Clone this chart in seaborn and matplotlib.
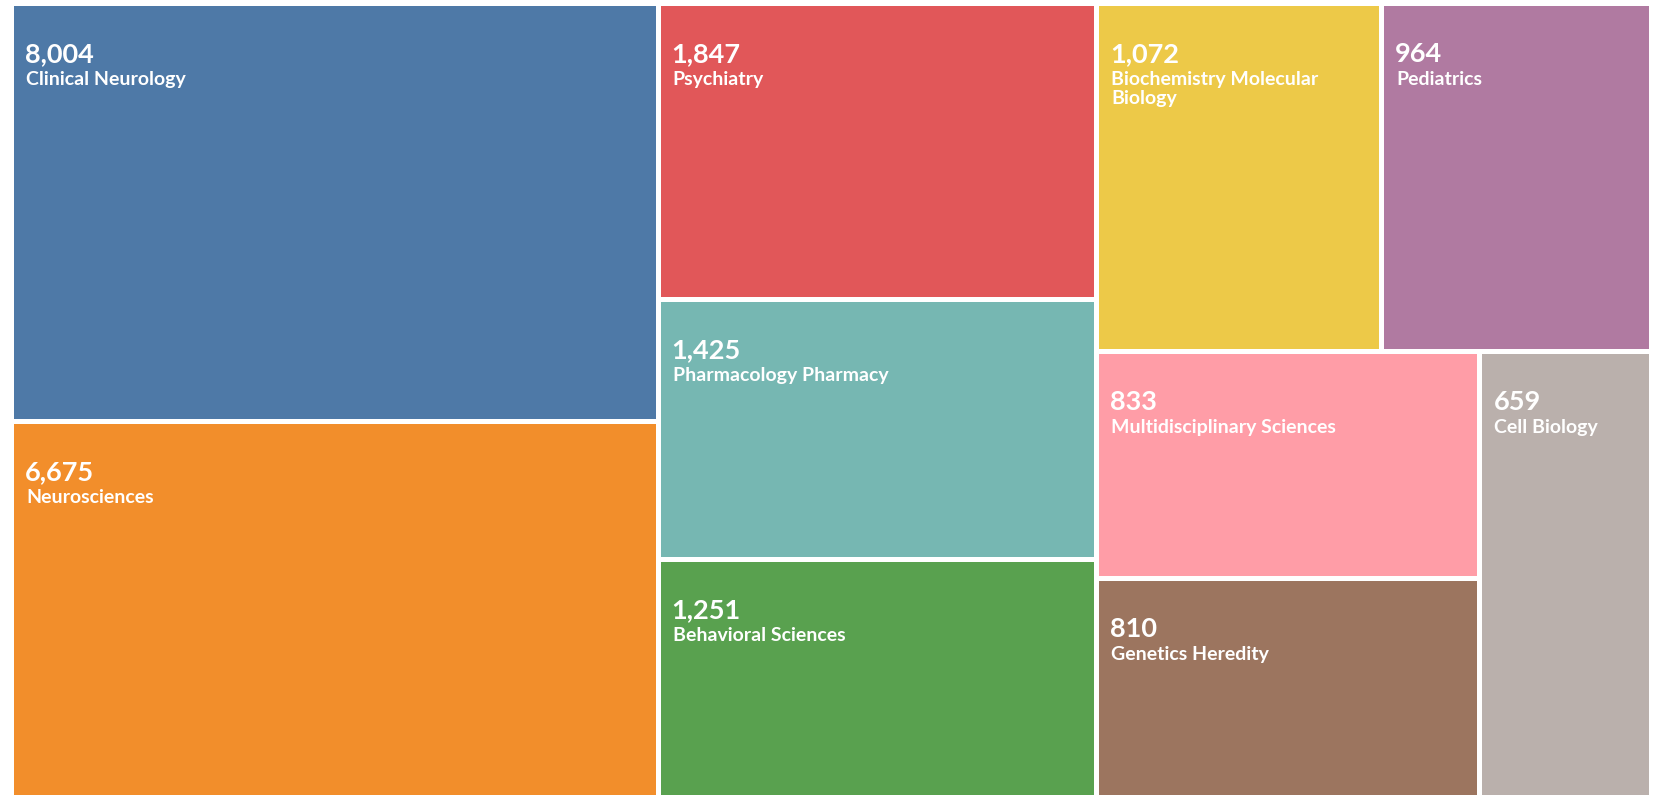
import math
import seaborn as sns
import matplotlib.pyplot as plt
from matplotlib.patches import Rectangle

# Web of Science categories, record counts (largest first)
categories = [
    "Clinical Neurology", "Neurosciences", "Psychiatry", "Pharmacology Pharmacy",
    "Behavioral Sciences", "Biochemistry Molecular Biology", "Pediatrics",
    "Multidisciplinary Sciences", "Genetics Heredity", "Cell Biology",
]
counts = [8004, 6675, 1847, 1425, 1251, 1072, 964, 833, 810, 659]
tile_colors = [
    "#4E79A7", "#F28E2B", "#E15759", "#76B7B2", "#59A14F",
    "#EDC948", "#B07AA1", "#FF9DA7", "#9C755F", "#BAB0AC",
]

FONT = ["Lato", "DejaVu Sans"]
GOLDEN = 0.5 * (1 + math.sqrt(5))


def worst(row, side, ratio=GOLDEN):
    s = sum(row)
    f = side * side * ratio
    return max(f * max(row) / (s * s), (s * s) / (f * min(row)))


def squarify(weights, x, y, w, h):
    """squarified treemap (golden ratio target), returns (x, y, w, h) per weight"""
    total = sum(weights)
    areas = [wt / total * w * h for wt in weights]
    rects = []
    while areas:
        side = min(w, h)
        row = [areas.pop(0)]
        best = worst(row, side)
        while areas:
            score = worst(row + [areas[0]], side)
            if score > best:
                break
            row.append(areas.pop(0))
            best = score
        s = sum(row)
        if w >= h:
            cw = s / h
            yy = y
            for a in row:
                rects.append((x, yy, cw, a / cw))
                yy += a / cw
            x += cw
            w -= cw
        else:
            rh = s / w
            xx = x
            for a in row:
                rects.append((xx, y, a / rh, rh))
                xx += a / rh
            y += rh
            h -= rh
    return rects


def wrap_label(ax, text, max_w, renderer, **kw):
    words = text.split()
    lines = [words[0]]
    for word in words[1:]:
        trial = lines[-1] + " " + word
        t = ax.text(0, 0, trial, **kw)
        tw = t.get_window_extent(renderer).width
        t.remove()
        if tw > max_w:
            lines.append(word)
        else:
            lines[-1] = trial
    return lines


def main():
    sns.set_theme(style="white")
    plt.rcParams["font.family"] = FONT

    fig = plt.figure(figsize=(16.71, 7.95), dpi=100)
    ax = fig.add_axes([0, 0, 1, 1])
    ax.set_xlim(0, 1671)
    ax.set_ylim(795, 0)
    ax.axis("off")
    renderer = fig.canvas.get_renderer()

    gap = 2.5
    # tile area follows the square root of the count
    weights = [math.sqrt(c) for c in counts]
    rects = squarify(weights, 14 - gap, 6 - gap, 1635 + 2 * gap, 800)

    for (x, y, w, h), name, n, col in zip(rects, categories, counts, tile_colors):
        ax.add_patch(Rectangle((x + gap, y + gap), w - 2 * gap, h - 2 * gap,
                               facecolor=col, edgecolor="none"))
        lx = x + gap + 11
        ax.text(lx, y + gap + 56, f"{n:,}", color="white", fontsize=19.5,
                fontweight="bold", va="baseline", ha="left")
        kw = dict(color="white", fontsize=14, fontweight="bold",
                  va="baseline", ha="left")
        lines = wrap_label(ax, name, w - 2 * gap - 22, renderer, **kw)
        for i, line in enumerate(lines):
            ax.text(lx + 1, y + gap + 79 + 19 * i, line, **kw)

    fig.savefig("out.png", dpi=100, facecolor="white")


if __name__ == "__main__":
    main()
